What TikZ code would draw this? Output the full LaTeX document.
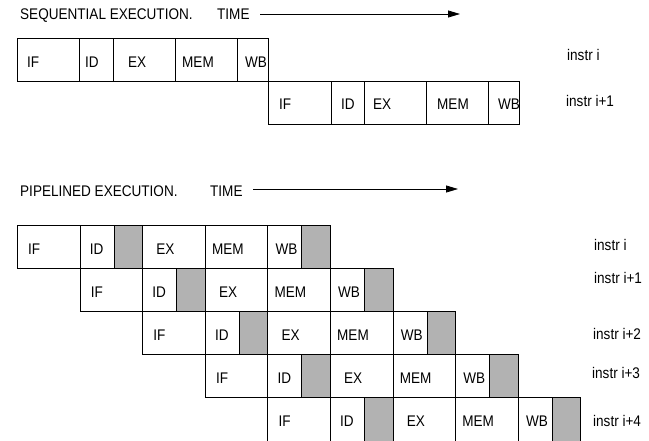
\documentclass[tikz,border=0pt]{standalone}
\usepackage{fontspec}
\setmainfont[FakeStretch=0.88]{Liberation Sans}
\usetikzlibrary{arrows.meta}
\begin{document}
\begin{tikzpicture}[x=1pt,y=-1pt,
  cell/.style={draw=black, line width=0.8pt, inner sep=0pt, anchor=north west},
  graycell/.style={cell, fill=black!30},
  lbl/.style={inner sep=0pt, anchor=west, font=\fontsize{15.4}{17}\selectfont, text height=11pt, text depth=0pt},
  timearrow/.style={line width=0.8pt, -{Triangle[length=12pt,width=7pt]}}]
\useasboundingbox (0,0) rectangle (649,440);

% ---------- Sequential execution ----------
\node[lbl] (seqtitle) at (20,14) {SEQUENTIAL EXECUTION.};
\node[lbl] (seqtime) at (217,14) {TIME};
\coordinate (sa1) at (260,14);
\coordinate (sa2) at (460,14);
\draw[timearrow] (sa1) -- (sa2);

\foreach \name/\x/\w/\tx [count=\i] in {IF/17/62/27, ID/79/34/85, EX/113/62/128, MEM/175/62/182, WB/237/31/245} {
  \node[cell, minimum width=\w pt, minimum height=43pt] (s1c\i) at (\x,38) {};
  \node[lbl] (s1t\i) at (\tx,61.5) {\name};
}
\foreach \name/\x/\w/\tx [count=\i] in {IF/268/63/279, ID/331/33/341, EX/364/62/373, MEM/426/62/437, WB/488/31/498} {
  \node[cell, minimum width=\w pt, minimum height=43pt] (s2c\i) at (\x,81) {};
  \node[lbl] (s2t\i) at (\tx,104) {\name};
}
\node[lbl] (seqi0) at (567,55) {instr i};
\node[lbl] (seqi1) at (566,101) {instr i+1};

% ---------- Pipelined execution ----------
\node[lbl] (pipetitle) at (20,190.5) {PIPELINED EXECUTION.};
\node[lbl] (pipetime) at (210,190.5) {TIME};
\coordinate (pa1) at (253,189);
\coordinate (pa2) at (458,189);
\draw[timearrow] (pa1) -- (pa2);

\foreach \k in {0,...,4} {
  \pgfmathsetmacro\s{17+62.6*\k}
  \pgfmathsetmacro\t{225+43*\k}
  \pgfmathsetmacro\ty{\t+23.5}
  \pgfmathsetmacro\h{\k==4 ? 47 : 43}
  \pgfmathsetmacro\xid{\s+62.6}
  \pgfmathsetmacro\xgid{\s+62.6+34}
  \pgfmathsetmacro\xex{\s+2*62.6}
  \pgfmathsetmacro\xmem{\s+3*62.6}
  \pgfmathsetmacro\xwb{\s+4*62.6}
  \pgfmathsetmacro\xgwb{\s+4*62.6+34}
  \node[cell, minimum width=62.6pt, minimum height=\h pt] (p\k-if) at (\s,\t) {};
  \node[cell, minimum width=34pt, minimum height=\h pt] (p\k-id) at (\xid,\t) {};
  \node[graycell, minimum width=28.6pt, minimum height=\h pt] (p\k-gid) at (\xgid,\t) {};
  \node[cell, minimum width=62.6pt, minimum height=\h pt] (p\k-ex) at (\xex,\t) {};
  \node[cell, minimum width=62.6pt, minimum height=\h pt] (p\k-mem) at (\xmem,\t) {};
  \node[cell, minimum width=34pt, minimum height=\h pt] (p\k-wb) at (\xwb,\t) {};
  \node[graycell, minimum width=28.6pt, minimum height=\h pt] (p\k-gwb) at (\xgwb,\t) {};
  \node[lbl] (p\k-tif) at (\s+11,\ty) {IF};
  \node[lbl] (p\k-tid) at (\xid+10,\ty) {ID};
  \node[lbl] (p\k-tex) at (\xex+14,\ty) {EX};
  \node[lbl] (p\k-tmem) at (\xmem+7,\ty) {MEM};
  \node[lbl] (p\k-twb) at (\xwb+8,\ty) {WB};
}
\node[lbl] (pi0) at (594,245) {instr i};
\node[lbl] (pi1) at (594,278) {instr i+1};
\node[lbl] (pi2) at (593,334) {instr i+2};
\node[lbl] (pi3) at (592,373) {instr i+3};
\node[lbl] (pi4) at (593,421) {instr i+4};
\end{tikzpicture}
\end{document}
